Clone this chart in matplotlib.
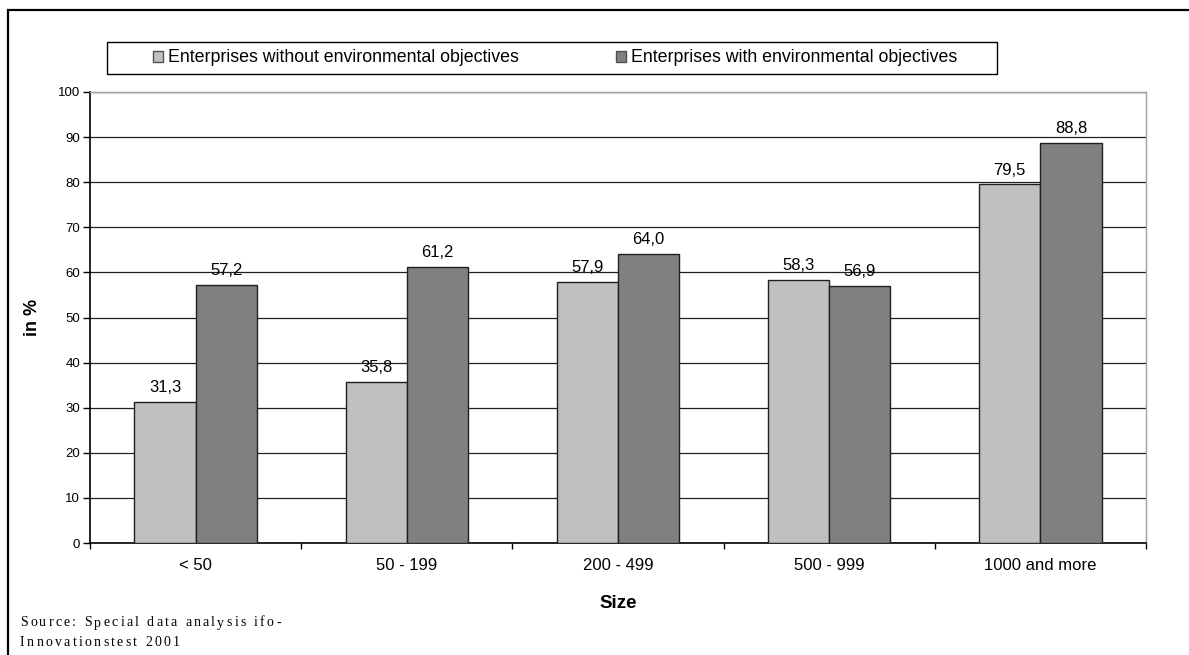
import matplotlib.pyplot as plt
import numpy as np
from matplotlib.patches import Rectangle
from matplotlib.font_manager import findfont, FontProperties
from matplotlib.ft2font import FT2Font

plt.rcParams['font.family'] = ['Liberation Sans', 'DejaVu Sans']

categorias = ["< 50", "50 - 199", "200 - 499", "500 - 999", "1000 and more"]
sin_objetivos = [31.3, 35.8, 57.9, 58.3, 79.5]
con_objetivos = [57.2, 61.2, 64.0, 56.9, 88.8]
etiquetas = ["Enterprises without environmental objectives",
             "Enterprises with environmental objectives"]
y_ticks = list(range(0, 101, 10))
fuente_lineas = ["Source: Special data analysis ifo-", "Innovationstest 2001"]

W, H = 1189, 655
fig = plt.figure(figsize=(W / 100, H / 100), dpi=100)
ax = fig.add_axes([90 / W, 1 - 543 / H, 1056 / W, 451 / H])

x = np.arange(len(categorias))
ancho = 0.29
b1 = ax.bar(x - ancho / 2, sin_objetivos, ancho, color='#c0c0c0',
            edgecolor='#202020', linewidth=1, label=etiquetas[0], zorder=3)
b2 = ax.bar(x + ancho / 2, con_objetivos, ancho, color='#808080',
            edgecolor='#202020', linewidth=1, label=etiquetas[1], zorder=3)

# etiquetas de valor con coma decimal
for barras in (b1, b2):
    for b in barras:
        h = b.get_height()
        ax.text(b.get_x() + b.get_width() / 2, h + 2.2, f"{h:.1f}".replace('.', ','),
                ha='center', va='baseline', fontsize=12, color='black', zorder=4)

ax.set_xlim(-0.5, len(categorias) - 0.5)
ax.set_ylim(0, 100)
ax.set_yticks(y_ticks)
ax.set_yticklabels([str(v) for v in y_ticks], fontsize=9.5)
ax.set_xticks(x)
ax.set_xticklabels(categorias, fontsize=12)
ax.tick_params(axis='x', length=0, pad=11)
ax.set_xticks(np.arange(len(categorias) + 1) - 0.5, minor=True)
ax.tick_params(axis='x', which='minor', length=4.5, width=1, direction='out')
ax.tick_params(axis='y', length=5, width=1, direction='out', pad=2)

ax.grid(axis='y', color='#202020', linewidth=0.9, zorder=0)
for lado in ['top', 'right']:
    ax.spines[lado].set_color('#a0a0a0')
    ax.spines[lado].set_linewidth(1)
ax.spines['left'].set_linewidth(1.2)
ax.spines['bottom'].set_linewidth(1.2)

ax.set_ylabel("in %", fontsize=13, fontweight='bold')
ax.yaxis.set_label_coords((41 - 90) / 1056, 0.5)
ax.set_xlabel("Size", fontsize=13.5, fontweight='bold')
ax.xaxis.set_label_coords(0.5, -(603 - 543) / 451)
ax.xaxis.label.set_va('center')

# leyenda sin marco + marco dibujado aparte
leg = fig.legend(handles=[b1, b2], labels=etiquetas, loc='center left',
                 bbox_to_anchor=(153 / W, 1 - 58 / H), ncol=2,
                 fontsize=12.8, frameon=False,
                 handlelength=0.57, handleheight=0.57, handletextpad=0.25,
                 columnspacing=5.5, borderpad=0, borderaxespad=0)
for hnd in leg.legend_handles:
    hnd.set_edgecolor('#505050')
fig.patches.append(Rectangle((107 / W, 1 - 74 / H), 890 / W, 32 / H,
                             transform=fig.transFigure, fill=False,
                             edgecolor='black', linewidth=1))

# texto de fuente con espaciado entre letras
ruta = findfont(FontProperties(family='Liberation Serif'))
ft = FT2Font(ruta)
tam = 10
ft.set_size(tam, 100)
espaciado = 2.3
for k, linea in enumerate(fuente_lineas):
    xpos = 20
    ypos = 623 + k * 19
    for ch in linea:
        fig.text(xpos / W, 1 - ypos / H, ch, family='Liberation Serif',
                 fontsize=tam, va='center', ha='left')
        xpos += ft.load_char(ord(ch)).linearHoriAdvance / 65536 + espaciado

fig.patches.append(Rectangle((8 / W, -0.05), 1.2, 1 - 10 / H + 0.05,
                             transform=fig.transFigure, fill=False,
                             edgecolor='black', linewidth=1.6))

fig.savefig("out.png", dpi=100)
